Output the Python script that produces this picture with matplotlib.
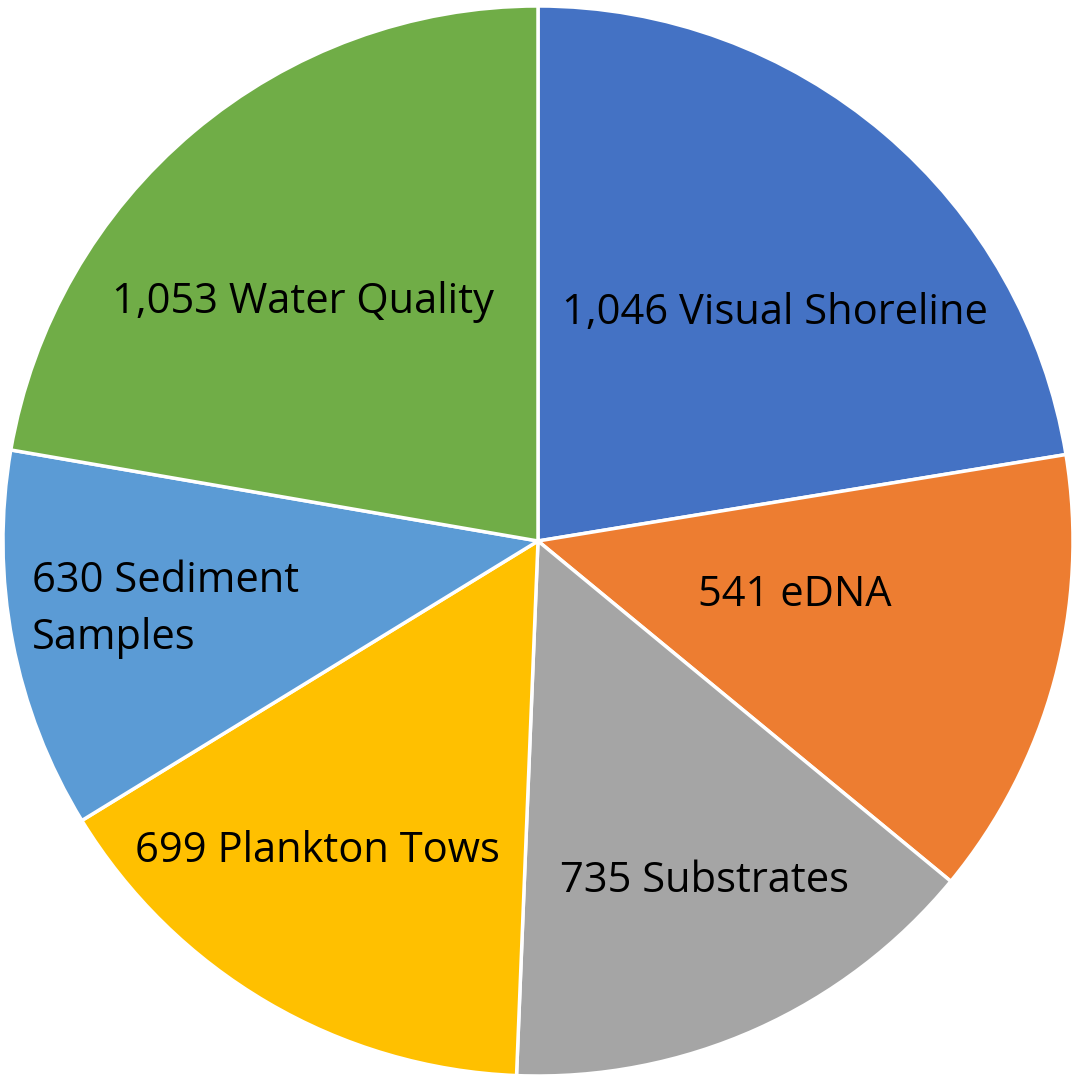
import matplotlib
matplotlib.use("Agg")
import matplotlib.pyplot as plt

# survey counts, clockwise from 12 o'clock
categories = ["Visual Shoreline", "eDNA", "Substrates", "Plankton Tows",
              "Sediment\nSamples", "Water Quality"]
counts = [1046, 541, 735, 699, 630, 1053]
# slice sizes as drawn in the original (degrees), not proportional to counts
slice_deg = [80.7, 48.8, 52.8, 56.2, 41.3, 80.2]
colors = ["#4472C4", "#ED7D31", "#A5A5A5", "#FFC000", "#5B9BD5", "#70AD47"]

# label anchors (data coords, radius = 1) and alignment
label_pos = [(0.443, 0.427), (0.480, -0.100), (0.312, -0.635),
             (-0.413, -0.580), (-0.946, -0.128), (-0.440, 0.447)]
label_ha = ["center", "center", "center", "center", "left", "center"]

W, H = 1074, 1083
cx, cy, R = 538, 541, 535

fig = plt.figure(figsize=(W / 100, H / 100), dpi=100)
ax = fig.add_axes([0, 0, 1, 1])

ax.pie(slice_deg, colors=colors, startangle=90, counterclock=False,
       radius=1, center=(0, 0), normalize=True,
       wedgeprops=dict(edgecolor="white", linewidth=2.5))

for cat, n, (x, y), ha in zip(categories, counts, label_pos, label_ha):
    ax.text(x, y, f"{n:,} {cat}", ha=ha, va="center", fontsize=30,
            family=["Open Sans", "DejaVu Sans"], color="black",
            linespacing=1.47)

ax.set_xlim(-cx / R, (W - cx) / R)
ax.set_ylim((cy - H) / R, cy / R)
ax.set_aspect("auto")
ax.axis("off")

fig.savefig("out.png", dpi=100, facecolor="white")
